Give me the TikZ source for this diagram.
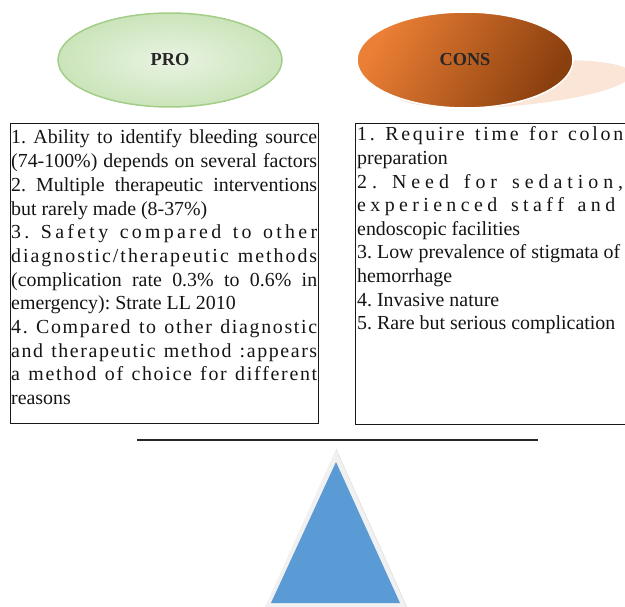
\documentclass[tikz,border=0pt]{standalone}
\usepackage{fontspec}
\setmainfont{Liberation Serif}
\usetikzlibrary{shapes.geometric}
\definecolor{proin}{HTML}{E9F3E2}
\definecolor{proout}{HTML}{CBE4BA}
\definecolor{proedge}{HTML}{A3CE88}
\definecolor{consA}{HTML}{EB7F35}
\definecolor{consB}{HTML}{8A3F0E}
\definecolor{conssh}{HTML}{FBE5D6}
\definecolor{triblue}{HTML}{5B9BD5}
\definecolor{triglow}{HTML}{F1F1F1}

\ExplSyntaxOn
\seq_new:N \l_rs_words_seq
\bool_new:N \l_rs_firstw_bool
\bool_new:N \l_rs_firstl_bool
\cs_new_protected:Nn \rs_spread:n
  {
    \seq_set_split:Nnn \l_rs_words_seq {~} {#1}
    \bool_set_true:N \l_rs_firstw_bool
    \seq_map_inline:Nn \l_rs_words_seq
      {
        \bool_if:NF \l_rs_firstw_bool { \hfil \c_space_tl \hfil }
        \bool_set_false:N \l_rs_firstw_bool
        \bool_set_true:N \l_rs_firstl_bool
        \tl_map_inline:nn {##1}
          {
            \bool_if:NF \l_rs_firstl_bool { \hfil }
            \bool_set_false:N \l_rs_firstl_bool
            ####1
          }
      }
  }
\NewDocumentCommand \lsline { m m } { \makebox[#1][s]{ \rs_spread:n {#2} } }
\ExplSyntaxOff
\newcommand\jline[2]{\makebox[#1][s]{#2}}
\frenchspacing

\begin{document}
\begin{tikzpicture}[x=1pt,y=-1pt,
  ln/.style={anchor=base west, inner sep=0pt, font=\fontsize{19.9}{23.7}\selectfont, text=black!92},
  head/.style={ellipse, inner sep=0pt, font=\fontsize{18.3}{20}\selectfont\bfseries, text=black!85},
  listbox/.style={draw=black!90, line width=1.3pt, anchor=north west, inner sep=0pt}
]
\useasboundingbox (0,0) rectangle (625,607);

% headings
\node[head, minimum width=224pt, minimum height=94pt, inner color=proin, outer color=proout,
      draw=proedge, line width=1.5pt] (pro) at (170,60) {PRO};
\fill[conssh] plot[domain=0:360, samples=120, smooth cycle]
  ({465+108*cos(\x)+48*(1+sin(\x))}, {84-24*sin(\x)});
\node[head, minimum width=216pt, minimum height=96pt, left color=consA, right color=consB,
      shading angle=60, draw=white, line width=1.5pt] (cons) at (465,60) {CONS};

% boxes
\node[listbox, minimum width=308pt, minimum height=300pt] (probox) at (10,123) {};
\node[listbox, minimum width=310pt, minimum height=301pt] (consbox) at (355,123) {};

% PRO lines
\node[ln] (p1) at (11,144) {\jline{306pt}{1. Ability to identify bleeding source}};
\node[ln] (p2) at (11,167.7) {\jline{306pt}{(74-100\%) depends on several factors}};
\node[ln] (p3) at (11,191.4) {\jline{306pt}{2. Multiple therapeutic interventions}};
\node[ln] (p4) at (11,215.1) {but rarely made (8-37\%)};
\node[ln] (p5) at (11,238.8) {\lsline{306pt}{3. Safety compared to other}};
\node[ln] (p6) at (11,262.5) {\lsline{306pt}{diagnostic/therapeutic methods}};
\node[ln] (p7) at (11,286.2) {\jline{306pt}{(complication rate 0.3\% to 0.6\% in}};
\node[ln] (p8) at (11,309.9) {emergency): Strate LL 2010};
\node[ln] (p9) at (11,333.6) {\lsline{306pt}{4. Compared to other diagnostic}};
\node[ln] (p10) at (11,357.3) {\lsline{306pt}{and therapeutic method :appears}};
\node[ln] (p11) at (11,381) {\lsline{306pt}{a method of choice for different}};
\node[ln] (p12) at (11,404.7) {reasons};

% CONS lines
\node[ln] (c1) at (357,141) {\lsline{266pt}{1. Require time for colon}};
\node[ln] (c2) at (357,164.6) {preparation};
\node[ln] (c3) at (357,188.2) {\lsline{266pt}{2. Need for sedation,}};
\node[ln] (c4) at (357,211.8) {\lsline{258pt}{experienced staff and}};
\node[ln] (c5) at (357,235.4) {endoscopic facilities};
\node[ln] (c6) at (357,259) {3. Low prevalence of stigmata of};
\node[ln] (c7) at (357,282.6) {hemorrhage};
\node[ln] (c8) at (357,306.2) {4. Invasive nature};
\node[ln] (c9) at (357,329.8) {5. Rare but serious complication};

% balance beam
\coordinate (bl) at (137,440);
\coordinate (br) at (538,440);
\draw[line width=2.5pt, black!85] (bl) -- (br);

% fulcrum
\fill[triglow] (336,449) -- (262,614) -- (410,614) -- cycle;
\draw[black!12, line width=0.6pt] (336,449) -- (410,614);
\fill[triblue] (336,462) -- (271,603) -- (400,603) -- cycle;
\end{tikzpicture}
\end{document}
